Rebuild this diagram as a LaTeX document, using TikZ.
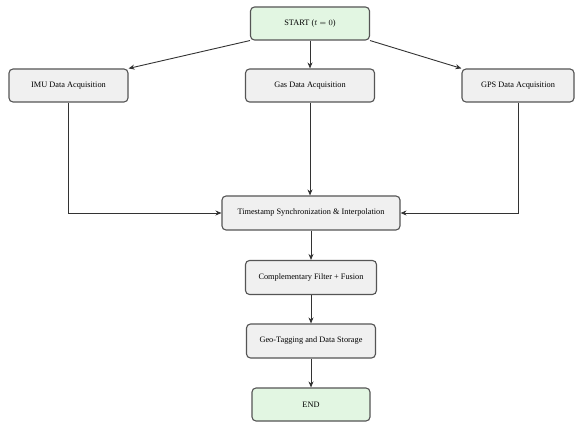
\documentclass[tikz,border=0pt]{standalone}
\usepackage{fontspec}
\setmainfont{Liberation Serif}
\usetikzlibrary{arrows.meta}
\definecolor{boxgrey}{HTML}{F0F0F0}
\definecolor{boxgreen}{HTML}{E2F6E2}
\definecolor{edge}{HTML}{555555}
\begin{document}
\begin{tikzpicture}[x=1pt,y=-1pt,
  procbox/.style={draw=edge, line width=1.1pt, rounded corners=4pt, fill=boxgrey, inner sep=0pt, font=\fontsize{8.3}{10}\selectfont, text=black},
  termbox/.style={procbox, fill=boxgreen},
  arr/.style={-{Stealth[length=6pt,width=5pt]}, line width=0.9pt, draw=black!80}]
\useasboundingbox (0,0) rectangle (577,427);
\fill[white] (0,0) rectangle (577,427);
\node[termbox, minimum width=119pt, minimum height=33pt] (start) at (310,23.5) {START ($t = 0$)};
\node[procbox, minimum width=119pt, minimum height=33pt] (imu) at (68.5,85.5) {IMU Data Acquisition};
\node[procbox, minimum width=129pt, minimum height=33pt] (gas) at (310,85.5) {Gas Data Acquisition};
\node[procbox, minimum width=112pt, minimum height=33pt] (gps) at (518,85.5) {GPS Data Acquisition};
\node[procbox, minimum width=178pt, minimum height=34pt] (sync) at (311,213) {Timestamp Synchronization \& Interpolation};
\node[procbox, minimum width=131pt, minimum height=34pt] (comp) at (311,277.5) {Complementary Filter + Fusion};
\node[procbox, minimum width=129pt, minimum height=34pt] (geo) at (311,341) {Geo-Tagging and Data Storage};
\node[termbox, minimum width=118pt, minimum height=33pt] (end) at (311,404.5) {END};
\draw[arr] (start.south west) -- (imu.north east);
\draw[arr] (start.south) -- (gas.north);
\draw[arr] (start.south east) -- (gps.north west);
\draw[arr] (imu.south) |- (sync.west);
\draw[arr] (gas.south) -- (gas.south |- sync.north);
\draw[arr] (gps.south) |- (sync.east);
\draw[arr] (sync.south) -- (comp.north);
\draw[arr] (comp) -- (geo);
\draw[arr] (geo) -- (end);
\end{tikzpicture}
\end{document}
